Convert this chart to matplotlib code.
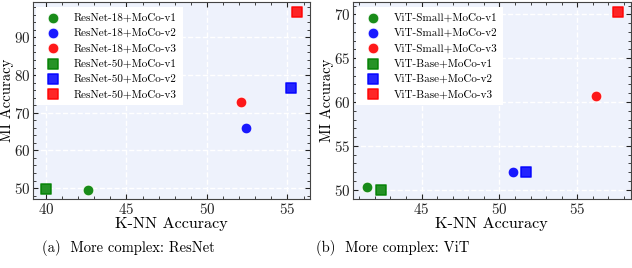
import matplotlib
matplotlib.use('Agg')
import matplotlib.pyplot as plt
from matplotlib.ticker import AutoMinorLocator

plt.rcParams['font.family'] = ['cmr10', 'DejaVu Serif']
plt.rcParams['mathtext.fontset'] = 'cm'
plt.rcParams['axes.formatter.use_mathtext'] = True

colors = ['green', 'blue', 'red']

# ResNet panel
resnet18_labels = ['ResNet-18+MoCo-v1', 'ResNet-18+MoCo-v2', 'ResNet-18+MoCo-v3']
resnet18_knn = [42.6, 52.4, 52.1]
resnet18_mi = [49.6, 66.0, 72.8]
resnet50_labels = ['ResNet-50+MoCo-v1', 'ResNet-50+MoCo-v2', 'ResNet-50+MoCo-v3']
resnet50_knn = [40.0, 55.2, 55.6]
resnet50_mi = [49.7, 76.7, 96.8]

# ViT panel
vits_labels = ['ViT-Small+MoCo-v1', 'ViT-Small+MoCo-v2', 'ViT-Small+MoCo-v3']
vits_knn = [41.5, 50.85, 56.2]
vits_mi = [50.26, 52.0, 60.7]
vitb_labels = ['ViT-Base+MoCo-v1', 'ViT-Base+MoCo-v2', 'ViT-Base+MoCo-v3']
vitb_knn = [42.4, 51.7, 57.6]
vitb_mi = [50.0, 52.06, 70.26]

captions = ['(a)  More complex: ResNet', '(b)  More complex: ViT']


def draw_panel(ax, small_lbl, small_x, small_y, big_lbl, big_x, big_y, xlim, ylim, xticks, yticks, ylab_x):
    ax.set_facecolor('#eef2fc')
    for lbl, x, y, c in zip(small_lbl, small_x, small_y, colors):
        ax.scatter(x, y, s=60, marker='o', color=c, edgecolors='white', linewidths=0.7,
                   alpha=0.9, label=lbl, zorder=3)
    for lbl, x, y, c in zip(big_lbl, big_x, big_y, colors):
        ax.scatter(x, y, s=60, marker='s', color=c, edgecolors=c, linewidths=1.2,
                   alpha=0.85, label=lbl, zorder=3)
    ax.set_xlim(*xlim)
    ax.set_ylim(*ylim)
    ax.set_xticks(xticks)
    ax.set_yticks(yticks)
    ax.xaxis.set_minor_locator(AutoMinorLocator(5))
    ax.yaxis.set_minor_locator(AutoMinorLocator(5))
    ax.tick_params(which='both', direction='in', top=True, right=True, labelsize=10.8,
                   colors='#222222', pad=2.5)
    ax.tick_params(axis='y', pad=2)
    ax.tick_params(which='major', length=3.5)
    ax.tick_params(which='minor', length=2)
    ax.grid(True, which='major', color='white', linestyle='--', linewidth=1.0, zorder=0)
    ax.set_axisbelow(True)
    for sp in ax.spines.values():
        sp.set_color('#444444')
        sp.set_linewidth(0.8)
    ax.set_xlabel('K-NN Accuracy', fontsize=11.7, labelpad=0)
    ax.set_ylabel('MI Accuracy', fontsize=10.6, va='center')
    ax.yaxis.set_label_coords(ylab_x, 0.5)
    leg = ax.legend(loc='upper left', fontsize=8, frameon=True, facecolor='white',
                    edgecolor='none', framealpha=1.0, borderpad=0.5, labelspacing=0.5,
                    handletextpad=0.9, borderaxespad=0.3, fancybox=False,
                    bbox_to_anchor=(0.0, 0.99))
    return leg


fig = plt.figure(figsize=(6.32, 2.68), dpi=100)
ax1 = fig.add_axes([0.0522, 0.2575, 0.4383, 0.735])
ax2 = fig.add_axes([0.5585, 0.2575, 0.4395, 0.735])

draw_panel(ax1, resnet18_labels, resnet18_knn, resnet18_mi,
           resnet50_labels, resnet50_knn, resnet50_mi,
           (39.2, 56.4), (47.1, 99.4), [40, 45, 50, 55], [50, 60, 70, 80, 90],
           -(33 - 7.2) / 277)
draw_panel(ax2, vits_labels, vits_knn, vits_mi,
           vitb_labels, vitb_knn, vitb_mi,
           (40.6, 58.43), (48.95, 71.4), [45, 50, 55], [50, 55, 60, 65, 70],
           -(353 - 327) / 278)

fig.text(128 / 632, 1 - 248 / 268, captions[0], ha='center', va='center', fontsize=10.5)
fig.text(393 / 632, 1 - 248 / 268, captions[1], ha='center', va='center', fontsize=10.5)

fig.savefig('out.png', dpi=100)
